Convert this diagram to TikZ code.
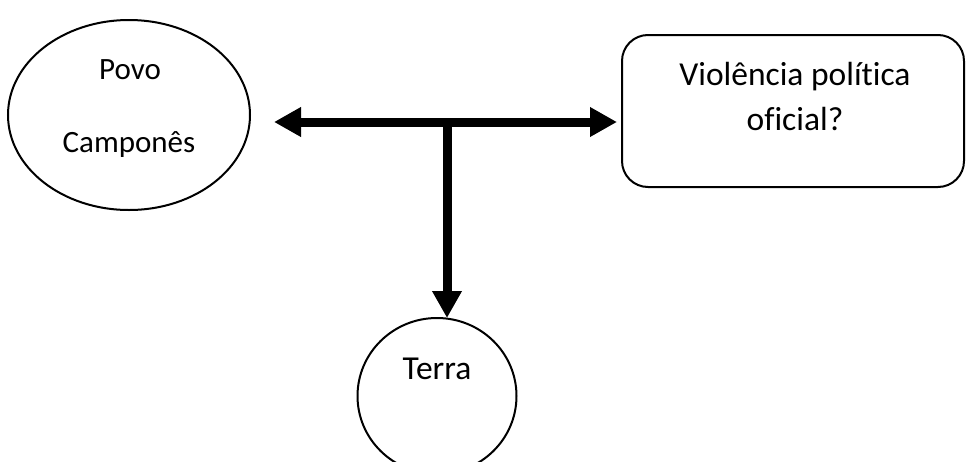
\documentclass[tikz,border=0pt]{standalone}
\usepackage{fontspec}
\setmainfont{Carlito}[Ligatures=NoCommon]
\usetikzlibrary{shapes.geometric,arrows.meta}
\begin{document}
\begin{tikzpicture}[x=1pt,y=-1pt,
  outline/.style={draw=black,line width=2pt,inner sep=0pt},
  txt/.style={anchor=base,inner sep=0pt,font=\fontsize{33.5}{40}\selectfont},
  smalltxt/.style={txt,font=\fontsize{31}{37}\selectfont},
  thick arrow/.style={line width=9pt,-{Triangle[length=27pt,width=28pt]}},
  both arrow/.style={line width=9pt,{Triangle[length=27pt,width=28pt]}-{Triangle[length=27pt,width=28pt]}}]
  \useasboundingbox (0,0) rectangle (967,461);
  % shapes
  \node[outline,ellipse,minimum width=242pt,minimum height=190pt] (pv) at (129,115) {};
  \node[outline,rectangle,rounded corners=26pt,minimum width=342pt,minimum height=152pt] (vp) at (793,111) {};
  \node[outline,ellipse,minimum width=159pt,minimum height=156pt] (te) at (437,396) {};
  % labels
  \node[smalltxt] (pv1) at (130,79) {Povo};
  \node[smalltxt] (pv2) at (129,152) {Camponês};
  \node[txt] (vp1) at (795,85) {Violência política};
  \node[txt] (vp2) at (795,130) {oficial?};
  \node[txt] (te1) at (437,379) {Terra};
  % connectors
  \coordinate (lt) at ([xshift=23pt]pv.east |- 0,122);
  \coordinate (rt) at ([xshift=-4pt]vp.west |- 0,122);
  \coordinate (j) at (447,122);
  \coordinate (dn) at (447,318);
  \draw[both arrow] (lt) -- (rt);
  \draw[thick arrow] ([yshift=-4.5pt]j) -- (dn);
\end{tikzpicture}
\end{document}
